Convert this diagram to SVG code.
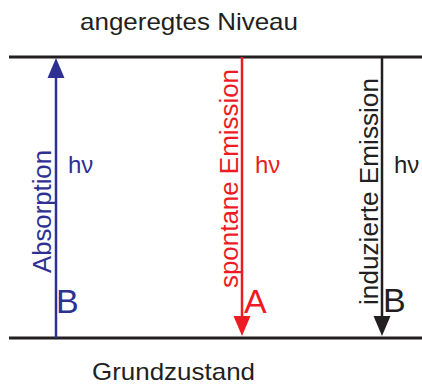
<svg xmlns="http://www.w3.org/2000/svg" width="422" height="385" viewBox="0 0 422 385">
<style>
text{font-family:"Liberation Sans",Arial,sans-serif}
.lvl{stroke:#231f20;stroke-width:3;fill:none}
.big{font-size:34px}
.lab{font-size:24px}
.rot{font-size:25px}
.hv{font-size:24px}
.blue{fill:#2e3192}
.red{fill:#ed1c24}
.blk{fill:#231f20}
</style>
<g id="levels">
<line class="lvl" x1="9" y1="57" x2="422" y2="57"/>
<line class="lvl" x1="9" y1="338" x2="422" y2="338"/>
<text class="lab blk" x="80" y="30" textLength="218" lengthAdjust="spacingAndGlyphs">angeregtes Niveau</text>
<text class="lab blk" x="92" y="380" textLength="163" lengthAdjust="spacingAndGlyphs">Grundzustand</text>
</g>
<g id="connectors">
<line x1="56" y1="338" x2="56" y2="75" stroke="#2e3192" stroke-width="2.5"/>
<polygon points="56,58 47.5,78 64.5,78" fill="#2e3192"/>
<line x1="242" y1="57" x2="242" y2="318" stroke="#ed1c24" stroke-width="2.5"/>
<polygon points="242,336 233.5,316 250.5,316" fill="#ed1c24"/>
<line x1="382" y1="57" x2="382" y2="318" stroke="#231f20" stroke-width="2.5"/>
<polygon points="382,336 373.5,316 390.5,316" fill="#231f20"/>
</g>
<g id="absorption">
<text class="rot blue" transform="translate(51,273) rotate(-90)" textLength="123" lengthAdjust="spacingAndGlyphs">Absorption</text>
<text class="hv blue" x="68" y="173">hν</text>
<text class="big blue" x="56" y="313">B</text>
</g>
<g id="spontan">
<text class="rot red" transform="translate(238,288) rotate(-90)" textLength="219" lengthAdjust="spacingAndGlyphs">spontane Emission</text>
<text class="hv red" x="255" y="173">hν</text>
<text class="big red" x="244" y="313">A</text>
</g>
<g id="induziert">
<text class="rot blk" transform="translate(378,305) rotate(-90)" textLength="227" lengthAdjust="spacingAndGlyphs">induzierte Emission</text>
<text class="hv blk" x="394" y="173">hν</text>
<text class="big blk" x="383" y="312">B</text>
</g>
</svg>
